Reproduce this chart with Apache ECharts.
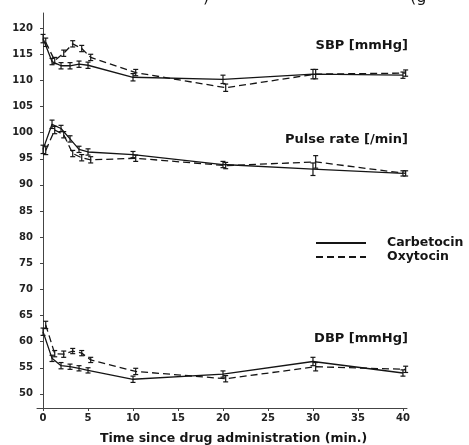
<!DOCTYPE html>
<html>
<head>
<meta charset="utf-8">
<script src="https://cdn.jsdelivr.net/npm/echarts@6/dist/echarts.min.js"></script>
<style>
  html, body { margin: 0; padding: 0; background: #fff; }
  #chart { width: 469px; height: 445px; }
</style>
</head>
<body>
<div id="chart"></div>
<script>
// time points (min.)
const times = [0, 1, 2, 3, 4, 5, 10, 20, 30, 40];
const yTicks = [50, 55, 60, 65, 70, 75, 80, 85, 90, 95, 100, 105, 110, 115, 120];
const xTicks = [0, 5, 10, 15, 20, 25, 30, 35, 40];

// SBP [mmHg]
const sbpCarb = [118.0, 113.6, 112.8, 112.8, 113.1, 112.9, 110.6, 110.2, 111.2, 111.0];
const sbpOxy = [117.3, 113.8, 115.2, 117.0, 116.1, 114.4, 111.5, 108.6, 111.2, 111.4];
const sbpCarbErr = [0.8, 0.6, 0.6, 0.6, 0.6, 0.6, 0.7, 0.8, 0.9, 0.6];
const sbpOxyErr = [0.8, 0.6, 0.6, 0.6, 0.6, 0.6, 0.6, 0.7, 0.9, 0.6];

// Pulse rate [/min]
const pulseCarb = [96.8, 101.6, 100.8, 98.8, 96.8, 96.3, 95.8, 93.9, 93.0, 92.2];
const pulseOxy = [96.6, 100.5, 99.6, 96.0, 95.2, 94.8, 95.1, 93.7, 94.4, 92.2];
const pulseCarbErr = [0.8, 0.8, 0.6, 0.6, 0.6, 0.6, 0.6, 0.6, 1.2, 0.5];
const pulseOxyErr = [0.8, 0.7, 0.6, 0.6, 0.6, 0.6, 0.6, 0.6, 1.2, 0.5];

// DBP [mmHg]
const dbpCarb = [61.9, 56.8, 55.4, 55.2, 54.9, 54.5, 52.8, 53.8, 56.2, 54.0];
const dbpOxy = [63.2, 57.7, 57.6, 58.2, 57.8, 56.5, 54.3, 52.9, 55.2, 54.7];
const dbpCarbErr = [0.7, 0.6, 0.6, 0.5, 0.5, 0.5, 0.6, 0.6, 0.8, 0.6];
const dbpOxyErr = [0.7, 0.6, 0.6, 0.5, 0.5, 0.5, 0.6, 0.6, 0.8, 0.6];

const oxyShift = 0.3;
const ink = '#151515';
const boldFont = 'DejaVu Sans';

const chart = echarts.init(document.getElementById('chart'));

function pts(vals, shift) {
  return vals.map((v, i) => [times[i] + shift, v]);
}
function errPts(vals, errs, shift) {
  return vals.map((v, i) => [times[i] + shift, v, errs[i]]);
}

// vertical error bar with small caps
function renderErr(params, api) {
  const x = api.value(0), v = api.value(1), e = api.value(2);
  const top = api.coord([x, v + e]);
  const bot = api.coord([x, v - e]);
  const w = 2.5;
  const st = { stroke: ink, lineWidth: 1.2 };
  return {
    type: 'group',
    children: [
      { type: 'line', shape: { x1: top[0], y1: top[1], x2: bot[0], y2: bot[1] }, style: st },
      { type: 'line', shape: { x1: top[0] - w, y1: top[1], x2: top[0] + w, y2: top[1] }, style: st },
      { type: 'line', shape: { x1: bot[0] - w, y1: bot[1], x2: bot[0] + w, y2: bot[1] }, style: st }
    ]
  };
}

function lineSeries(name, vals, shift, dashed) {
  return {
    name: name,
    type: 'line',
    data: pts(vals, shift),
    symbol: 'none',
    lineStyle: { color: ink, width: 1.3, type: dashed ? [7, 4] : 'solid' },
    itemStyle: { color: ink },
    silent: true,
    z: 3
  };
}

function errSeries(vals, errs, shift) {
  return {
    type: 'custom',
    data: errPts(vals, errs, shift),
    renderItem: renderErr,
    encode: { x: 0, y: 1 },
    silent: true,
    z: 4
  };
}

const series = [
  lineSeries('Carbetocin', sbpCarb, 0, false),
  lineSeries('Oxytocin', sbpOxy, oxyShift, true),
  lineSeries('Carbetocin', pulseCarb, 0, false),
  lineSeries('Oxytocin', pulseOxy, oxyShift, true),
  lineSeries('Carbetocin', dbpCarb, 0, false),
  lineSeries('Oxytocin', dbpOxy, oxyShift, true),
  errSeries(sbpCarb, sbpCarbErr, 0),
  errSeries(sbpOxy, sbpOxyErr, oxyShift),
  errSeries(pulseCarb, pulseCarbErr, 0),
  errSeries(pulseOxy, pulseOxyErr, oxyShift),
  errSeries(dbpCarb, dbpCarbErr, 0),
  errSeries(dbpOxy, dbpOxyErr, oxyShift)
];

const panelLabel = (text, y) => ({
  type: 'text',
  right: 61,
  top: y,
  style: { text: text, font: 'bold 13px ' + boldFont, fill: ink, textAlign: 'right' }
});

chart.setOption({
  animation: false,
  backgroundColor: '#fff',
  grid: { left: 37, right: 62, top: 13, bottom: 37 },
  xAxis: {
    type: 'value',
    min: -0.67,
    max: 40.45,
    splitLine: { show: false },
    axisLine: { lineStyle: { color: '#444', width: 1 } },
    axisTick: { customValues: xTicks, length: 3, lineStyle: { color: '#444' } },
    axisLabel: {
      customValues: xTicks, margin: 5, color: '#222',
      fontFamily: boldFont, fontWeight: 'bold', fontSize: 10
    }
  },
  yAxis: {
    type: 'value',
    min: 47.3,
    max: 122.9,
    splitLine: { show: false },
    axisLine: { show: true, lineStyle: { color: '#444', width: 1 } },
    axisTick: { show: true, customValues: yTicks, length: 3, lineStyle: { color: '#444' } },
    axisLabel: {
      customValues: yTicks, margin: 4, color: '#222',
      fontFamily: boldFont, fontWeight: 'bold', fontSize: 10
    }
  },
  legend: {
    data: ['Carbetocin', 'Oxytocin'],
    orient: 'vertical',
    left: 315,
    top: 236,
    itemWidth: 50,
    itemHeight: 14,
    itemGap: 0,
    padding: 0,
    selectedMode: false,
    itemStyle: { opacity: 0 },
    textStyle: {
      fontFamily: boldFont, fontWeight: 'bold', fontSize: 12.5, color: ink,
      lineHeight: 14, padding: [0, 0, 0, 16]
    }
  },
  graphic: [
    panelLabel('SBP [mmHg]', 39),
    panelLabel('Pulse rate [/min]', 133),
    panelLabel('DBP [mmHg]', 332),
    {
      type: 'text', left: 100, top: 432,
      style: { text: 'Time since drug administration (min.)', font: 'bold 12.5px ' + boldFont, fill: ink }
    },
    { type: 'text', left: 203, top: -10, style: { text: ')', font: '16px ' + boldFont, fill: ink } },
    { type: 'text', left: 410, top: -10, style: { text: '(g', font: '16px ' + boldFont, fill: ink } }
  ],
  series: series
});
</script>
</body>
</html>
